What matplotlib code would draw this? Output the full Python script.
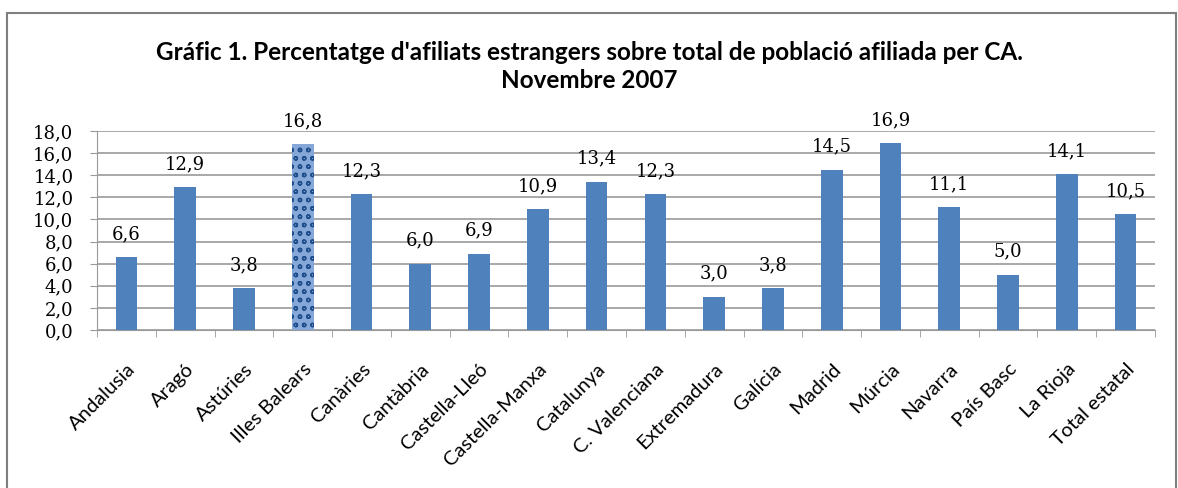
import matplotlib.pyplot as plt
import matplotlib.transforms as mtransforms
from matplotlib.patches import Rectangle

regions = ["Andalusia", "Aragó", "Astúries", "Illes Balears", "Canàries", "Cantàbria",
           "Castella-Lleó", "Castella-Manxa", "Catalunya", "C. Valenciana", "Extremadura",
           "Galícia", "Madrid", "Múrcia", "Navarra", "País Basc", "La Rioja", "Total estatal"]
values = [6.6, 12.9, 3.8, 16.8, 12.3, 6.0, 6.9, 10.9, 13.4, 12.3, 3.0, 3.8, 14.5, 16.9, 11.1, 5.0, 14.1, 10.5]
yticks = [0, 2, 4, 6, 8, 10, 12, 14, 16, 18]

blue = "#4F81BD"
grey = "#999999"

fig = plt.figure(figsize=(11.78, 4.88), dpi=100)
# outer chart frame
fig.patches.append(Rectangle((7 / 1178, -0.1), 1169 / 1178, 1.1 - 13 / 488, transform=fig.transFigure,
                             fill=False, edgecolor="#7F7F7F", linewidth=1.5))

ax = fig.add_axes([97 / 1178, 158 / 488, 1058 / 1178, 199 / 488])
x = list(range(len(regions)))
bars = ax.bar(x, values, width=0.37, color=blue, zorder=3)
# highlighted bar with textured fill
bars[3].set_facecolor("#86A8D8")
bars[3].set_hatch("oo")
bars[3].set_edgecolor("#1F4E8C")
bars[3].set_linewidth(0)

for xi, v in zip(x, values):
    ax.annotate(f"{v:.1f}".replace(".", ","), (xi, v), xytext=(0, 13), textcoords="offset points",
                ha="center", va="baseline", fontsize=13, family="DejaVu Serif")

ax.set_xlim(-0.5, len(regions) - 0.5)
ax.set_ylim(0, 18)
ax.set_yticks(yticks)
ax.set_yticklabels([f"{t:.1f}".replace(".", ",") for t in yticks], family="DejaVu Serif", fontsize=13)
ax.yaxis.grid(True, color=grey, linewidth=1.2, zorder=0)
ax.set_axisbelow(True)

ax.set_xticks(x)
ax.set_xticklabels(regions, rotation=45, ha="right", rotation_mode="anchor", fontsize=14.5, family="Lato")
shift = mtransforms.ScaledTranslation(8 / 100, 0, fig.dpi_scale_trans)
for lbl in ax.get_xticklabels():
    lbl.set_transform(lbl.get_transform() + shift)
ax.set_xticks([i - 0.5 for i in range(len(regions) + 1)], minor=True)
ax.tick_params(axis="x", which="major", length=0, pad=22)
ax.tick_params(axis="x", which="minor", length=5, color=grey)
ax.tick_params(axis="y", length=5, color=grey, pad=12)

for s in ["top", "right"]:
    ax.spines[s].set_visible(False)
ax.spines["left"].set_color(grey)
ax.spines["bottom"].set_color(grey)

fig.text(0.5, 1 - 52 / 488, "Gráfic 1. Percentatge d'afiliats estrangers sobre total de població afiliada per CA.",
         ha="center", va="center", fontsize=17.5, fontweight="bold", family="Lato")
fig.text(0.5, 1 - 80 / 488, "Novembre 2007", ha="center", va="center", fontsize=17.5, fontweight="bold", family="Lato")

fig.savefig("out.png", dpi=100, facecolor="white")
